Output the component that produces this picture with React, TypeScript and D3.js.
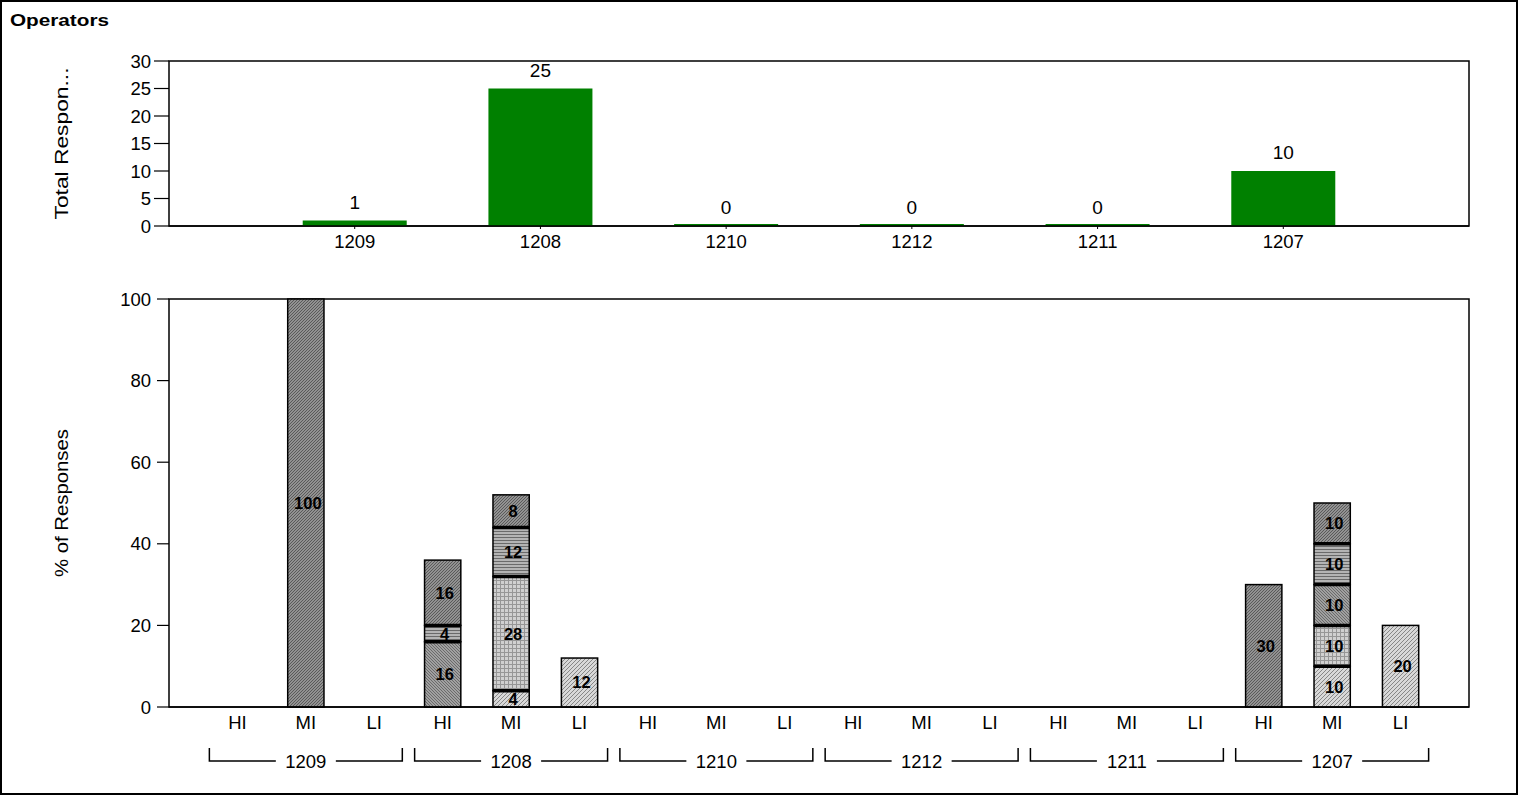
import React from "react";
import * as d3 from "d3";

const categories = ["1209", "1208", "1210", "1212", "1211", "1207"];
const totals = [1, 25, 0, 0, 0, 10];
const subLabels = ["HI", "MI", "LI"];
const topTicks = [0, 5, 10, 15, 20, 25, 30];
const bottomTicks = [0, 20, 40, 60, 80, 100];

// stacked series, bottom to top; 18 values (category x HI/MI/LI)
const lightDiag = [0, 0, 0, 0, 4, 12, 0, 0, 0, 0, 0, 0, 0, 0, 0, 0, 10, 20];
const gridFill = [0, 0, 0, 0, 28, 0, 0, 0, 0, 0, 0, 0, 0, 0, 0, 0, 10, 0];
const mediumDiag = [0, 0, 0, 16, 0, 0, 0, 0, 0, 0, 0, 0, 0, 0, 0, 0, 10, 0];
const horizontal = [0, 0, 0, 4, 12, 0, 0, 0, 0, 0, 0, 0, 0, 0, 0, 0, 10, 0];
const darkDiag = [0, 100, 0, 16, 8, 0, 0, 0, 0, 0, 0, 0, 0, 0, 0, 30, 10, 0];

const seriesList = [
  { key: "lightDiag", values: lightDiag },
  { key: "grid", values: gridFill },
  { key: "mediumDiag", values: mediumDiag },
  { key: "horizontal", values: horizontal },
  { key: "darkDiag", values: darkDiag },
];

const FONT = "'Liberation Sans', Arial, sans-serif";

export default function App() {
  const W = 1519, H = 796;
  const left = 169, right = 1469;

  // top chart
  const tTop = 61, tBottom = 226;
  const xTop = d3.scalePoint<string>().domain(categories).range([left, right]).padding(1);
  const yTop = d3.scaleLinear().domain([0, 30]).range([tBottom, tTop]);
  const topBarW = xTop.step() * 0.56;

  // bottom chart
  const bTop = 299, bBottom = 707;
  const subKeys = categories.flatMap((c) => subLabels.map((s) => c + "|" + s));
  const xBot = d3.scalePoint<string>().domain(subKeys).range([left, right]).padding(1);
  const yBot = d3.scaleLinear().domain([0, 100]).range([bBottom, bTop]);
  const botBarW = xBot.step() * 0.53;

  const rows = subKeys.map((k, i) => {
    const o: any = { key: k };
    seriesList.forEach((s) => (o[s.key] = s.values[i]));
    return o;
  });
  const stacked = d3.stack<any>().keys(seriesList.map((s) => s.key))(rows);

  const segments: any[] = [];
  stacked.forEach((layer, li) => {
    layer.forEach((d, i) => {
      const v = d[1] - d[0];
      if (v > 0) segments.push({ key: layer.key, i, y0: d[0], y1: d[1], v, li });
    });
  });

  return (
    <svg width={W} height={H} style={{ position: "absolute", left: 0, top: 0, background: "#fff" }} fontFamily={FONT}>
      <defs>
        <pattern id="lightDiag" patternUnits="userSpaceOnUse" width="4" height="4">
          <rect width="4" height="4" fill="#d8d8d8" />
          <path d="M-1,1 l2,-2 M0,4 l4,-4 M3,5 l2,-2" stroke="#868686" strokeWidth="1" />
        </pattern>
        <pattern id="grid" patternUnits="userSpaceOnUse" width="4" height="4">
          <rect width="4" height="4" fill="#d0d0d0" />
          <path d="M0,0.5 H4 M0.5,0 V4" stroke="#969696" strokeWidth="1" />
        </pattern>
        <pattern id="mediumDiag" patternUnits="userSpaceOnUse" width="3" height="3">
          <rect width="3" height="3" fill="#a0a0a0" />
          <path d="M-1,-1 l5,5 M-1,2 l2,2 M2,-1 l2,2" stroke="#6a6a6a" strokeWidth="1" />
        </pattern>
        <pattern id="horizontal" patternUnits="userSpaceOnUse" width="4" height="3">
          <rect width="4" height="3" fill="#b4b4b4" />
          <path d="M0,0.5 H4" stroke="#6a6a6a" strokeWidth="1" />
        </pattern>
        <pattern id="darkDiag" patternUnits="userSpaceOnUse" width="3" height="3">
          <rect width="3" height="3" fill="#929292" />
          <path d="M-1,1 l2,-2 M0,3 l3,-3 M2,4 l2,-2" stroke="#5a5a5a" strokeWidth="1" />
        </pattern>
      </defs>

      <rect x={1} y={1} width={W - 3} height={H - 3} fill="#fff" stroke="#000" strokeWidth={2} />
      <text x={10} y={26} fontSize={17} fontWeight="bold" textLength={99} lengthAdjust="spacingAndGlyphs">Operators</text>

      {/* TOP CHART */}
      <rect x={left} y={tTop} width={right - left} height={tBottom - tTop} fill="none" stroke="#000" strokeWidth={1.5} />
      {topTicks.map((t) => (
        <g key={"tt" + t}>
          <line x1={154} x2={left} y1={yTop(t)} y2={yTop(t)} stroke="#000" strokeWidth={1.2} />
          <text x={151} y={yTop(t)} dy="0.36em" textAnchor="end" fontSize={18.5}>{t}</text>
        </g>
      ))}
      <text transform={`translate(68,${(tTop + tBottom) / 2}) rotate(-90)`} x={-76} fontSize={18} textLength={152} lengthAdjust="spacingAndGlyphs">Total Respon...</text>
      {categories.map((c, i) => {
        const x = xTop(c)!;
        const h = Math.max(yTop(0) - yTop(totals[i]), 2);
        return (
          <g key={"tb" + c}>
            <rect x={x - topBarW / 2} y={yTop(0) - h} width={topBarW} height={h} fill="#008000" />
            <line x1={x} x2={x} y1={tBottom} y2={tBottom + 3} stroke="#000" />
            <text x={x} y={yTop(totals[i]) - 12} textAnchor="middle" fontSize={19}>{totals[i]}</text>
            <text x={x} y={248} textAnchor="middle" fontSize={18.5}>{c}</text>
          </g>
        );
      })}
      <line x1={left} x2={right} y1={tBottom} y2={tBottom} stroke="#000" strokeWidth={1.5} />

      {/* BOTTOM CHART */}
      <rect x={left} y={bTop} width={right - left} height={bBottom - bTop} fill="none" stroke="#000" strokeWidth={1.5} />
      {bottomTicks.map((t) => (
        <g key={"bt" + t}>
          <line x1={157} x2={left} y1={yBot(t)} y2={yBot(t)} stroke="#000" strokeWidth={1.2} />
          <text x={151} y={yBot(t)} dy="0.36em" textAnchor="end" fontSize={18.5}>{t}</text>
        </g>
      ))}
      <text transform={`translate(68,${(bTop + bBottom) / 2}) rotate(-90)`} x={-74} fontSize={18} textLength={148} lengthAdjust="spacingAndGlyphs">% of Responses</text>

      {segments.map((s, j) => {
        const x = xBot(subKeys[s.i])!;
        const yT = yBot(s.y1), yB = yBot(s.y0);
        return (
          <g key={"seg" + j}>
            <rect x={x - botBarW / 2} y={yT} width={botBarW} height={yB - yT} fill={`url(#${s.key})`} stroke="#000" strokeWidth={1.5} />
            {s.y0 > 0 && (
              <line x1={x - botBarW / 2} x2={x + botBarW / 2} y1={yB} y2={yB} stroke="#000" strokeWidth={3.5} />
            )}
          </g>
        );
      })}
      {segments.map((s, j) => {
        const x = xBot(subKeys[s.i])!;
        const yM = (yBot(s.y1) + yBot(s.y0)) / 2;
        return (
          <text key={"lab" + j} x={x + 2} y={yM} dy="0.36em" textAnchor="middle" fontSize={16.5} fontWeight="bold">{s.v}</text>
        );
      })}
      <line x1={left} x2={right} y1={bBottom} y2={bBottom} stroke="#000" strokeWidth={1.5} />

      {subKeys.map((k) => (
        <text key={"sl" + k} x={xBot(k)!} y={729} textAnchor="middle" fontSize={18.5}>{k.split("|")[1]}</text>
      ))}
      {categories.map((c) => {
        const cx = xBot(c + "|MI")!;
        const half = xBot.step() * 1.41;
        const gap = 30;
        const yb = 761;
        return (
          <g key={"br" + c} stroke="#000" strokeWidth={1.5} fill="none">
            <path d={`M${cx - half},${yb - 13} V${yb} H${cx - gap}`} />
            <path d={`M${cx + half},${yb - 13} V${yb} H${cx + gap}`} />
            <text x={cx} y={yb} dy="0.36em" textAnchor="middle" fontSize={18.5} stroke="none" fill="#000">{c}</text>
          </g>
        );
      })}
    </svg>
  );
}
